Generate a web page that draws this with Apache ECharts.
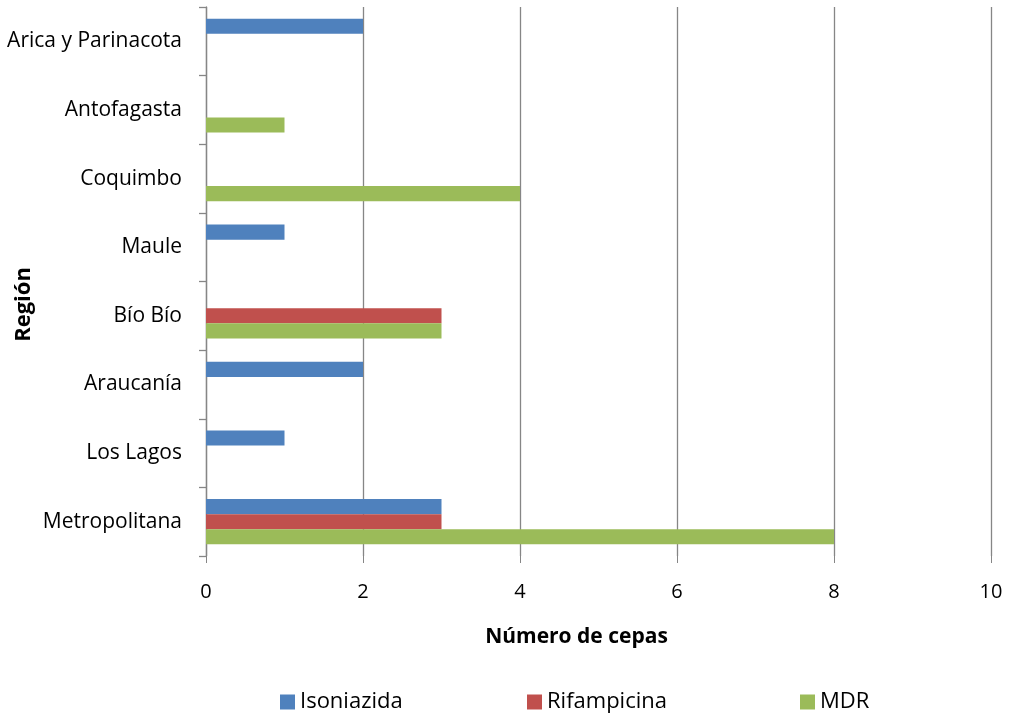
<!DOCTYPE html>
<html><head><meta charset="utf-8">
<script src="https://cdn.jsdelivr.net/npm/echarts@6/dist/echarts.min.js"></script>
<style>html,body{margin:0;padding:0;background:#fff}#c{width:1011px;height:717px}</style>
</head><body><div id="c"></div>
<script>
const categories = ["Arica y Parinacota","Antofagasta","Coquimbo","Maule","Bío Bío","Araucanía","Los Lagos","Metropolitana"];
const isoniazida = [2,0,0,1,0,2,1,3];
const rifampicina = [0,0,0,0,3,0,0,3];
const mdr = [0,1,4,0,3,0,0,8];
const seriesNames = ["Isoniazida","Rifampicina","MDR"];
const xTicks = [0,2,4,6,8,10];
const colors = ['#4F81BD','#C0504D','#9BBB59'];
const legendLeft = [275,522,795];

const FONT = "'Open Sans', sans-serif";
const chart = echarts.init(document.getElementById('c'));
chart.setOption({
  animation:false,
  textStyle:{fontFamily:FONT},
  grid:{left:206,right:20,top:7,bottom:161,containLabel:false,outerBoundsMode:'none'},
  legend:seriesNames.map((n,i)=>({
    top:686,left:legendLeft[i],itemWidth:15,itemHeight:15,itemGap:0,
    icon:'rect',
    textStyle:{fontSize:22,color:'#000',fontFamily:FONT,padding:[0,0,0,0]},
    data:[n]
  })),
  xAxis:{
    type:'value',min:xTicks[0],max:xTicks[xTicks.length-1],interval:2,
    axisLine:{show:false},
    axisTick:{show:true,length:7,lineStyle:{color:'#868686'}},
    splitLine:{show:true,lineStyle:{color:'#868686',width:1.3}},
    axisLabel:{fontSize:20,color:'#000',margin:26,fontFamily:FONT},
    name:"Número de cepas",nameLocation:'middle',nameGap:71,nameMoveOverlap:false,
    nameTextStyle:{fontSize:21,fontWeight:'bold',color:'#000',fontFamily:FONT,padding:[0,44,0,0]}
  },
  yAxis:{
    type:'category',data:categories,inverse:true,
    axisLine:{show:true,lineStyle:{color:'#868686',width:1.3}},
    axisTick:{show:true,length:7,lineStyle:{color:'#868686',width:1.3}},
    axisLabel:{fontSize:21,color:'#000',margin:24,fontFamily:FONT},
    name:"Región",nameLocation:'middle',nameGap:171,nameRotate:90,nameMoveOverlap:false,
    nameTextStyle:{fontSize:22,fontWeight:'bold',color:'#000',fontFamily:FONT,padding:[0,46,0,0]}
  },
  series:seriesNames.map((n,i)=>({
    name:n,type:'bar',data:[isoniazida,rifampicina,mdr][i],
    barGap:'0%',barCategoryGap:'34%',itemStyle:{color:colors[i]}
  }))
});
</script></body></html>
